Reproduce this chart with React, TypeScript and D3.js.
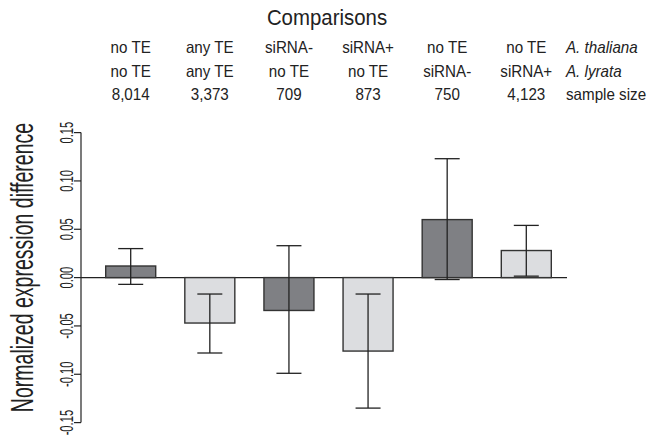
import React, { useRef, useEffect } from 'react'
import * as d3 from 'd3'

// header rows (one entry per bar)
const thalianaRow = ['no TE', 'any TE', 'siRNA-', 'siRNA+', 'no TE', 'no TE']
const lyrataRow = ['no TE', 'any TE', 'no TE', 'no TE', 'siRNA-', 'siRNA+']
const sampleSizes = ['8,014', '3,373', '709', '873', '750', '4,123']
const rowNames = ['A. thaliana', 'A. lyrata', 'sample size']

// bar heights and error bar limits
const means = [0.012, -0.047, -0.034, -0.076, 0.06, 0.028]
const lower = [-0.007, -0.078, -0.099, -0.135, -0.002, 0.0015]
const upper = [0.03, -0.017, 0.033, -0.017, 0.123, 0.054]
const shades = ['dark', 'light', 'dark', 'light', 'dark', 'light']

const yTicks = [-0.15, -0.1, -0.05, 0, 0.05, 0.1, 0.15]

const FONT = "'Liberation Sans', Arial, Helvetica, sans-serif"
const INK = '#222'

const App = () => {
	const svgRef = useRef<SVGSVGElement>(null)

	useEffect(() => {
		const svg = d3.select(svgRef.current)
		svg.selectAll('*').remove()

		const width = 649
		const height = 439

		svg.attr('width', width).attr('height', height)

		const idx = means.map((d, i) => i)

		// x: bars
		const x = d3
			.scaleBand<number>()
			.domain(idx)
			.range([105.7, 551.3])
			.paddingInner(0.368)
			.paddingOuter(0)

		// y
		const y = d3.scaleLinear().domain([-0.15, 0.15]).range([422.6, 132.6])

		const fmt = d3.formatLocale({
			decimal: '.',
			thousands: ',',
			grouping: [3],
			currency: ['', ''],
			minus: '-',
		}).format('.2f')

		const axisX = 81

		// y axis line + ticks
		const ax = svg.append('g')
		ax.append('line')
			.attr('x1', axisX).attr('x2', axisX)
			.attr('y1', y(-0.15)).attr('y2', y(0.15))
			.attr('stroke', INK).attr('stroke-width', 1.2)
		ax.selectAll('.tick')
			.data(yTicks)
			.enter()
			.append('line')
			.attr('x1', axisX - 7).attr('x2', axisX)
			.attr('y1', d => y(d)).attr('y2', d => y(d))
			.attr('stroke', INK).attr('stroke-width', 1.2)
		// rotated, condensed tick labels
		ax.selectAll('.lab')
			.data(yTicks)
			.enter()
			.append('text')
			.attr('transform', d => `translate(72.5,${y(d)}) rotate(-90) scale(0.64,1)`)
			.attr('text-anchor', 'middle')
			.attr('font-family', FONT)
			.attr('font-size', 17.5)
			.attr('fill', INK)
			.text(d => fmt(d))

		// y title
		svg.append('text')
			.attr('transform', `translate(33,267.5) rotate(-90) scale(0.63,1)`)
			.attr('text-anchor', 'middle')
			.attr('font-family', FONT)
			.attr('font-size', 31)
			.attr('fill', INK)
			.text('Normalized expression difference')

		// zero line
		svg.append('line')
			.attr('x1', axisX).attr('x2', 567)
			.attr('y1', y(0)).attr('y2', y(0))
			.attr('stroke', INK).attr('stroke-width', 1.3)

		// bars
		svg.selectAll('.bar')
			.data(means)
			.enter()
			.append('rect')
			.attr('x', (d, i) => x(i)!)
			.attr('width', x.bandwidth())
			.attr('y', d => Math.min(y(d), y(0)))
			.attr('height', d => Math.abs(y(d) - y(0)))
			.attr('fill', (d, i) => (shades[i] === 'dark' ? '#7f8084' : '#dcdde0'))
			.attr('stroke', '#333')
			.attr('stroke-width', 1.4)

		// error bars
		const cap = 12.5
		const eb = svg.append('g').attr('stroke', INK).attr('stroke-width', 1.3)
		idx.forEach(i => {
			const cx = x(i)! + x.bandwidth() / 2
			eb.append('line').attr('x1', cx).attr('x2', cx).attr('y1', y(lower[i])).attr('y2', y(upper[i]))
			eb.append('line').attr('x1', cx - cap).attr('x2', cx + cap).attr('y1', y(lower[i])).attr('y2', y(lower[i]))
			eb.append('line').attr('x1', cx - cap).attr('x2', cx + cap).attr('y1', y(upper[i])).attr('y2', y(upper[i]))
		})

		// header
		svg.append('text')
			.attr('transform', 'translate(327,25) scale(0.95,1)')
			.attr('text-anchor', 'middle')
			.attr('font-family', FONT)
			.attr('font-size', 21.5)
			.attr('fill', INK)
			.text('Comparisons')

		const rows = [thalianaRow, lyrataRow, sampleSizes]
		const rowY = [53, 76.5, 100]
		rows.forEach((row, r) => {
			svg.selectAll(`.row${r}`)
				.data(row)
				.enter()
				.append('text')
				.attr('transform', (d, i) => `translate(${x(i)! + x.bandwidth() / 2},${rowY[r]}) scale(0.92,1)`)
				.attr('text-anchor', 'middle')
				.attr('font-family', FONT)
				.attr('font-size', 16.5)
				.attr('fill', INK)
				.text(d => d)
			svg.append('text')
				.attr('transform', `translate(566,${rowY[r]}) scale(0.92,1)`)
				.attr('font-family', FONT)
				.attr('font-size', 16.5)
				.attr('font-style', r < 2 ? 'italic' : 'normal')
				.attr('fill', INK)
				.text(rowNames[r])
		})
	}, [])

	return <svg ref={svgRef} style={{ position: 'absolute', left: 0, top: 0 }}></svg>
}

export default App
